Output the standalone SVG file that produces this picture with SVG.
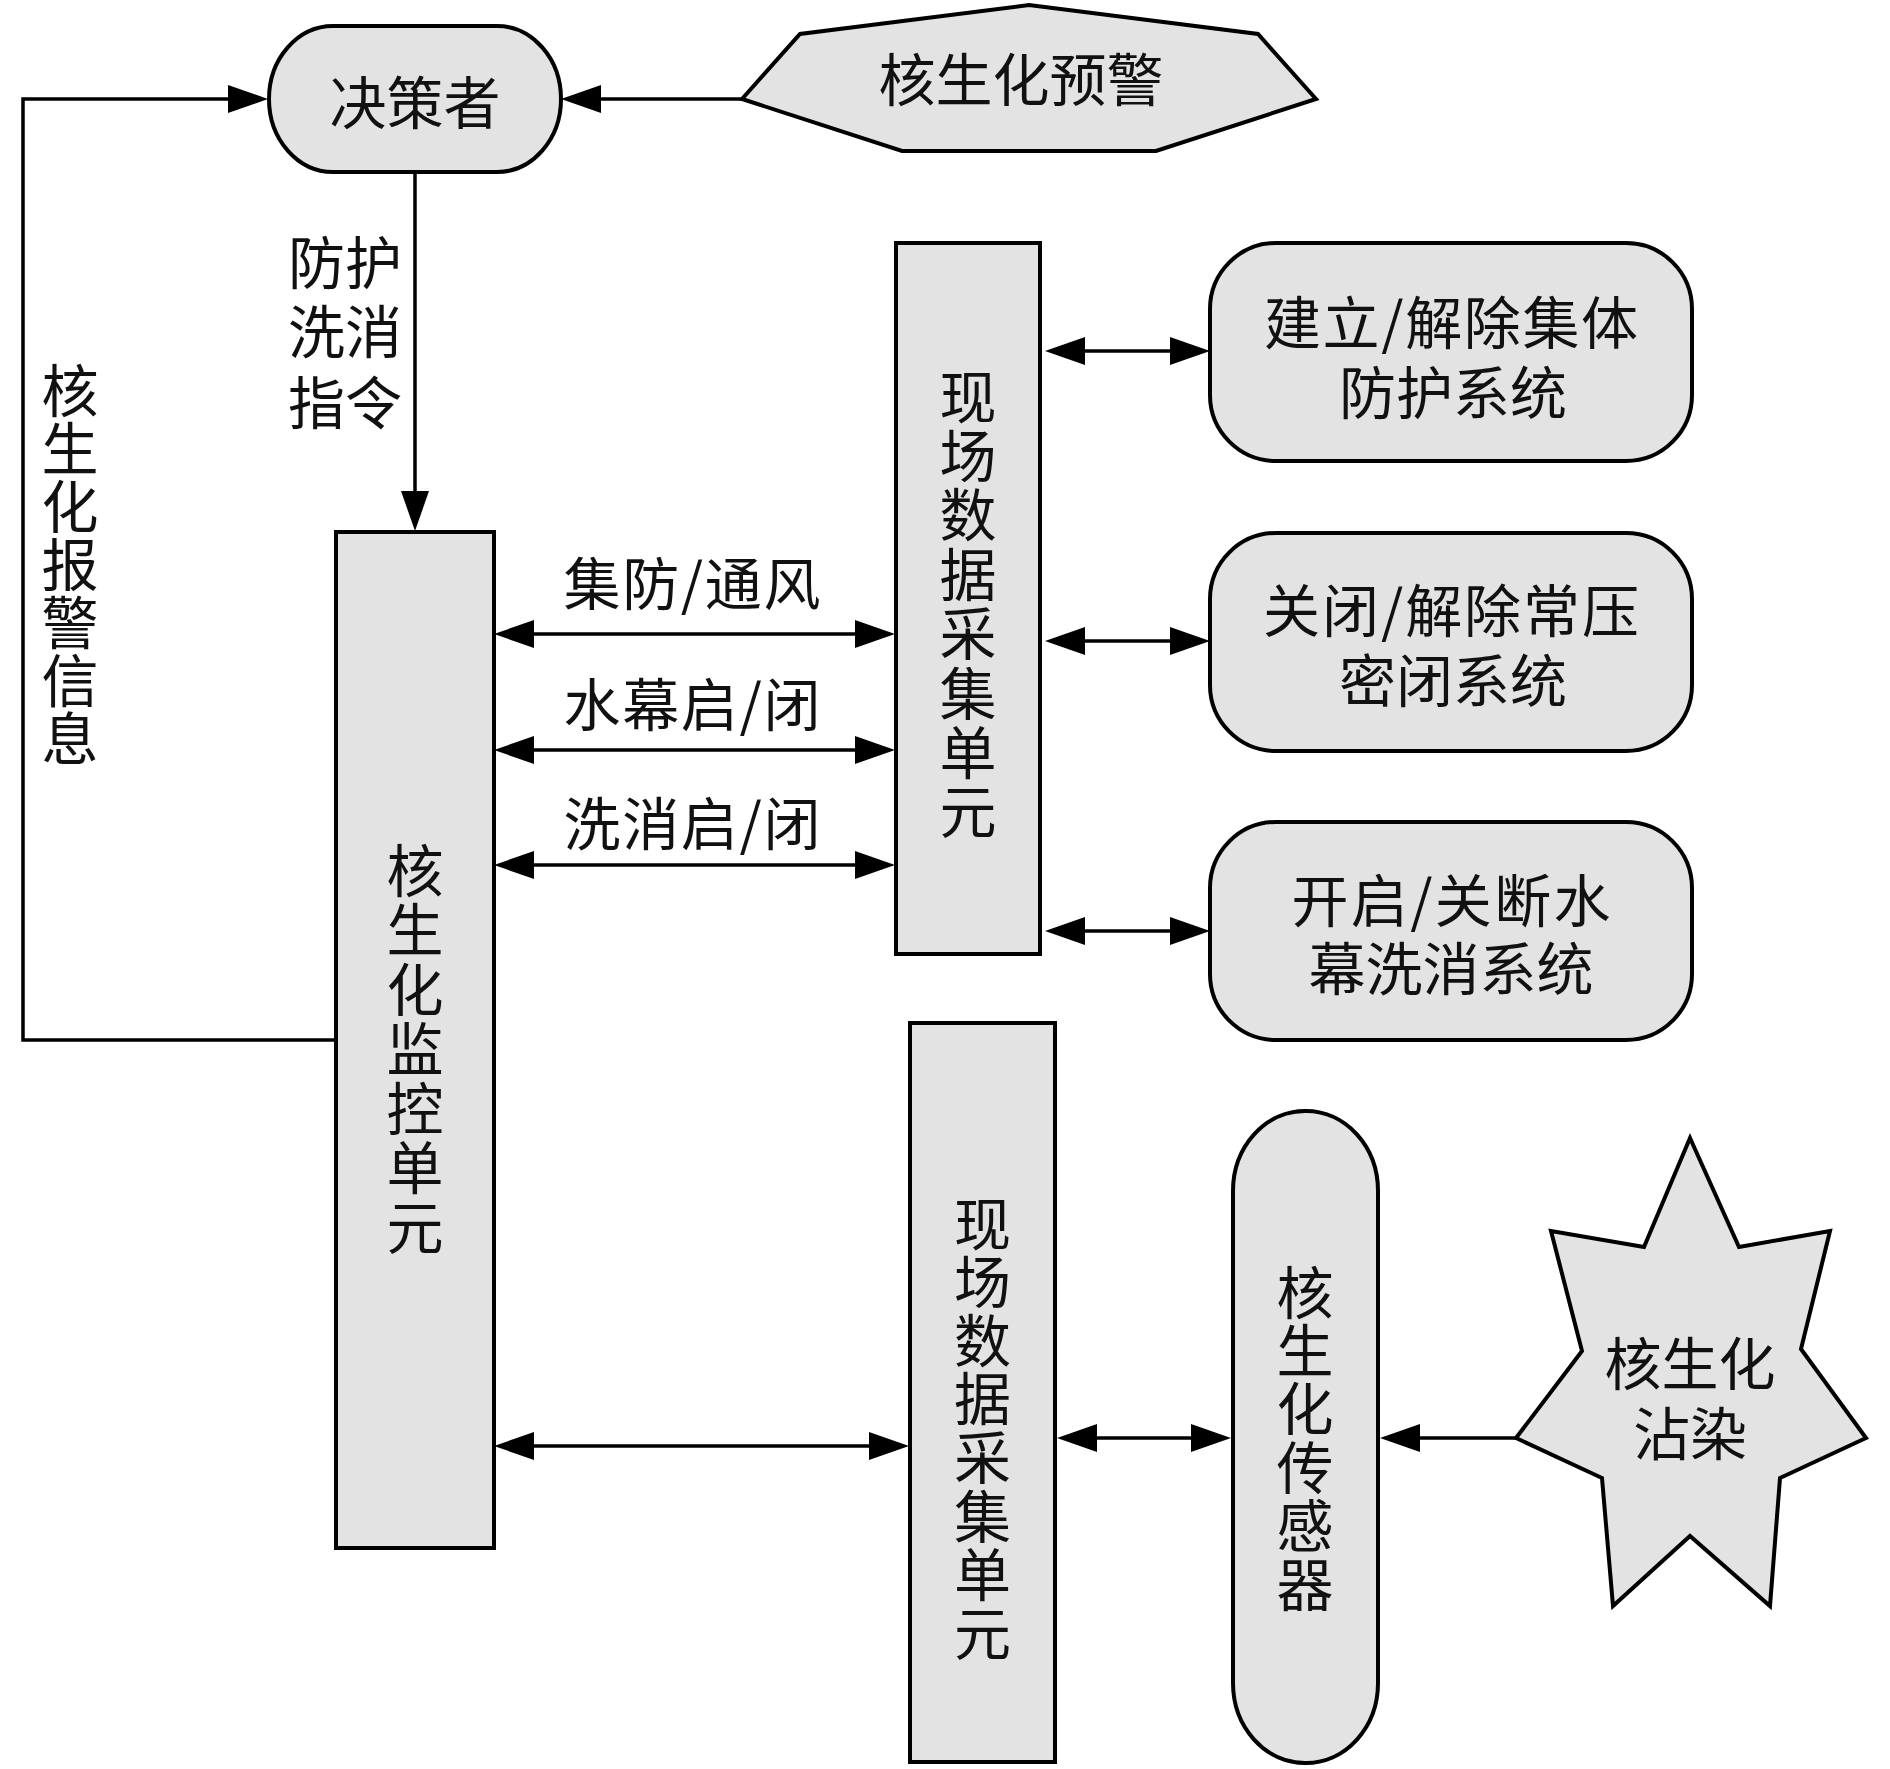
<svg xmlns="http://www.w3.org/2000/svg" width="1890" height="1769" viewBox="0 0 1890 1769">
<style>
.s{fill:#e3e3e3;stroke:#000;stroke-width:4}
.c{fill:none;stroke:#000;stroke-width:3.5}
text{font-family:"Noto Sans CJK SC","Noto Sans CJK JP",sans-serif;font-size:57px;fill:#111;text-anchor:middle;dominant-baseline:central}
text.v{writing-mode:vertical-rl;text-orientation:upright;text-anchor:start}
</style>
<defs>
<marker id="a" viewBox="0 0 40 28" refX="30" refY="14" markerWidth="40" markerHeight="28" markerUnits="userSpaceOnUse" orient="auto-start-reverse"><path d="M0,0L40,14L0,28z" fill="#000"/></marker>
</defs>
<rect width="1890" height="1769" fill="#fff"/>
<g id="connectors">
<polyline class="c" points="336,1040 23,1040 23,99 258,99" marker-end="url(#a)"/>
<line class="c" x1="742" y1="99" x2="571" y2="99" marker-end="url(#a)"/>
<line class="c" x1="415" y1="172" x2="415" y2="521" marker-end="url(#a)"/>
<line class="c" x1="504" y1="634" x2="885" y2="634" marker-start="url(#a)" marker-end="url(#a)"/>
<line class="c" x1="504" y1="750" x2="885" y2="750" marker-start="url(#a)" marker-end="url(#a)"/>
<line class="c" x1="504" y1="865" x2="885" y2="865" marker-start="url(#a)" marker-end="url(#a)"/>
<line class="c" x1="1055" y1="351" x2="1200" y2="351" marker-start="url(#a)" marker-end="url(#a)"/>
<line class="c" x1="1055" y1="641" x2="1200" y2="641" marker-start="url(#a)" marker-end="url(#a)"/>
<line class="c" x1="1055" y1="931" x2="1200" y2="931" marker-start="url(#a)" marker-end="url(#a)"/>
<line class="c" x1="504" y1="1446" x2="899" y2="1446" marker-start="url(#a)" marker-end="url(#a)"/>
<line class="c" x1="1067" y1="1438" x2="1221" y2="1438" marker-start="url(#a)" marker-end="url(#a)"/>
<line class="c" x1="1516" y1="1438" x2="1390" y2="1438" marker-end="url(#a)"/>
<g id="edge-labels">
<text x="345" y="259">防护<tspan x="345" y="328">洗消</tspan><tspan x="345" y="399">指令</tspan></text>
<text class="v" x="70" y="361.5" letter-spacing="1">核生化报警信息</text>
<text x="692" y="580" textLength="257" lengthAdjust="spacing">集防/通风</text>
<text x="692" y="701" textLength="257" lengthAdjust="spacing">水幕启/闭</text>
<text x="692" y="820" textLength="257" lengthAdjust="spacing">洗消启/闭</text>
</g>
</g>
<g id="decision-maker">
<rect class="s" x="269" y="26" width="292" height="146" rx="64" ry="73"/>
<text x="415" y="99">决策者</text>
</g>
<g id="warning">
<polygon class="s" points="742,99 800,34 1029,5 1258,34 1316,99 1156,151 902,151"/>
<text x="1021" y="76">核生化预警</text>
</g>
<g id="monitor">
<rect class="s" x="336" y="532" width="158" height="1016"/>
<text class="v" x="415" y="841.5" letter-spacing="2.5">核生化监控单元</text>
</g>
<g id="collector-1">
<rect class="s" x="896" y="243" width="144" height="711"/>
<text class="v" x="968" y="367.5" letter-spacing="2.4">现场数据采集单元</text>
</g>
<g id="collective-protection">
<rect class="s" x="1210" y="243" width="482" height="218" rx="66" ry="66"/>
<text x="1451" y="319"><tspan x="1451" y="319" textLength="374" lengthAdjust="spacing">建立/解除集体</tspan><tspan x="1453" y="389">防护系统</tspan></text>
</g>
<g id="sealing">
<rect class="s" x="1210" y="533" width="482" height="218" rx="66" ry="66"/>
<text x="1451" y="607"><tspan x="1451" y="607" textLength="376" lengthAdjust="spacing">关闭/解除常压</tspan><tspan x="1453" y="677">密闭系统</tspan></text>
</g>
<g id="water-curtain">
<rect class="s" x="1210" y="822" width="482" height="218" rx="66" ry="66"/>
<text x="1451" y="897"><tspan x="1451" y="897" textLength="319" lengthAdjust="spacing">开启/关断水</tspan><tspan x="1451" y="965">幕洗消系统</tspan></text>
</g>
<g id="collector-2">
<rect class="s" x="910" y="1023" width="145" height="739"/>
<text class="v" x="982.5" y="1194.5" letter-spacing="1.6">现场数据采集单元</text>
</g>
<g id="sensor">
<rect class="s" x="1233" y="1111" width="145" height="652" rx="72" ry="80"/>
<text class="v" x="1305" y="1263.5" letter-spacing="1.4">核生化传感器</text>
</g>
<g id="contamination">
<polygon class="s" points="1516,1438 1582,1351 1551,1231 1644,1247 1690,1138 1739,1247 1830,1231 1801,1349 1866,1438 1780,1478 1770,1606 1690,1536 1613,1606 1602,1478"/>
<text x="1690" y="1360">核生化<tspan x="1690" y="1430">沾染</tspan></text>
</g>
</svg>
